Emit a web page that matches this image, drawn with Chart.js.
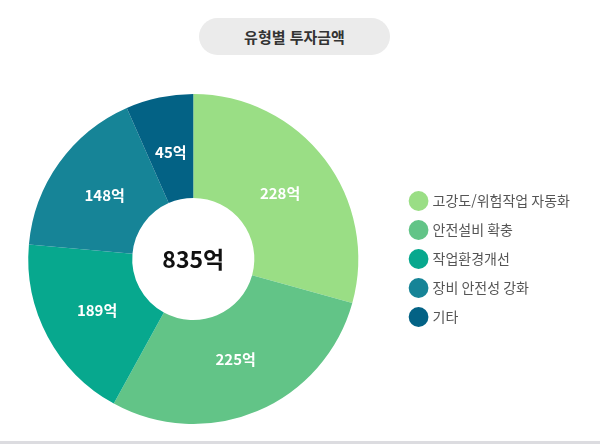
<!DOCTYPE html>
<html lang="ko">
<head>
<meta charset="utf-8">
<script src="https://cdn.jsdelivr.net/npm/chart.js@4.4.1/dist/chart.umd.min.js"></script>
<style>
    html, body { margin: 0; padding: 0; background: #fff; }
    #wrap { position: relative; width: 600px; height: 444px; overflow: hidden; }
    #title {
        position: absolute; left: 199px; top: 18px; width: 191px; height: 37px;
        border-radius: 19px; background: #ebebeb; color: #333;
        font: bold 15px "Noto Sans CJK KR", sans-serif;
        display: flex; align-items: center; justify-content: center;
    }
    #bottom-line { position: absolute; left: 0; right: 0; bottom: 0; height: 3px; background: #dcdce0; }
    canvas { position: absolute; left: -10px; top: 0; }
</style>
</head>
<body>
<div id="wrap">
    <canvas id="pieChart" width="610" height="444"></canvas>
    <div id="title">유형별 투자금액</div>
    <div id="bottom-line"></div>
</div>
<script>
// Data
const categories = ["고강도/위험작업 자동화", "안전설비 확충", "작업환경개선", "장비 안전성 강화", "기타"];
const amounts = [228, 225, 189, 148, 45];          // label values (억)
const shares = [29.3, 28.7, 18.4, 17.0, 6.6];      // slice sizes as drawn in the picture (%)
const unit = "억";
const colors = ['#9ade85', '#62c487', '#07a88e', '#168497', '#036285'];

const total = amounts.reduce((a, b) => a + b, 0);
const FONT = '"Noto Sans CJK KR", sans-serif';

// slice labels + total in the hole
const labelPlugin = {
    id: 'sliceLabels',
    afterDatasetsDraw(chart) {
        const ctx = chart.ctx;
        const meta = chart.getDatasetMeta(0);
        ctx.save();
        ctx.textAlign = 'center';
        ctx.textBaseline = 'middle';
        ctx.fillStyle = '#fff';
        ctx.font = 'bold 15px ' + FONT;
        meta.data.forEach((arc, i) => {
            const p = arc.getProps(['x', 'y', 'startAngle', 'endAngle', 'innerRadius', 'outerRadius']);
            const mid = (p.startAngle + p.endAngle) / 2;
            const r = (p.innerRadius + p.outerRadius) / 2 - 4;
            ctx.fillText(amounts[i] + unit, p.x + Math.cos(mid) * r, p.y + Math.sin(mid) * r);
        });
        const a0 = meta.data[0];
        ctx.fillStyle = '#111';
        ctx.font = 'bold 23px ' + FONT;
        ctx.fillText(total + unit, a0.x, a0.y);
        ctx.restore();
    }
};

new Chart(document.getElementById('pieChart'), {
    type: 'doughnut',
    data: {
        labels: categories,
        datasets: [{
            data: shares,
            backgroundColor: colors,
            borderWidth: 0
        }]
    },
    options: {
        responsive: false,
        animation: false,
        cutout: '37%',
        layout: { padding: { top: 94, bottom: 20, left: 0, right: 20 } },
        plugins: {
            legend: {
                position: 'right',
                labels: {
                    usePointStyle: true,
                    pointStyle: 'circle',
                    color: '#555',
                    padding: 15,
                    font: { size: 14, family: FONT }
                }
            },
            tooltip: { enabled: false }
        }
    },
    plugins: [labelPlugin]
});
</script>
</body>
</html>
